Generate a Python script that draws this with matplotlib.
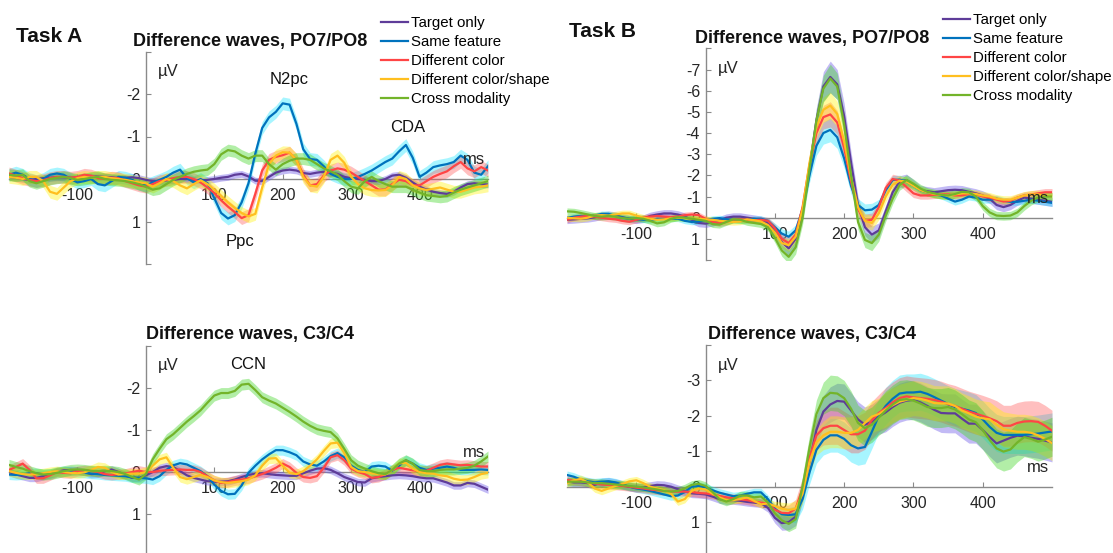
import numpy as np
import matplotlib.pyplot as plt

plt.rcParams['font.family'] = ['Liberation Sans', 'DejaVu Sans']

# time axis of the difference waves (ms)
time_ms = np.arange(-200, 501, 10)

conditions = ['Target only', 'Same feature', 'Different color',
              'Different color/shape', 'Cross modality']
line_colors = ['#5E3C99', '#0072BD', '#FF4545', '#FFBF1F', '#73B42A']
band_colors = ['#6F5BE8', '#19E6FF', '#FF4A4A', '#FFF200', '#3FD624']
band_alpha = [0.42, 0.38, 0.35, 0.38, 0.4]

# ---- Task A, PO7/PO8 (uV) ----
a_po_target = [-0.05, -0.03, 0.0, 0.02, 0.0, -0.02, -0.03, -0.04, -0.04, -0.03,
               -0.03, -0.04, -0.05, -0.06, -0.05, -0.04, -0.02, -0.03, -0.04, -0.02,
               0.02, 0.05, 0.05, 0.03, 0.02, 0.0, 0.0, 0.02, 0.03, 0.02,
               0.0, -0.03, -0.05, -0.1, -0.12, -0.06, 0.04, 0.05, -0.05, -0.15,
               -0.2, -0.22, -0.2, -0.14, -0.12, -0.15, -0.17, -0.15, -0.12, -0.05,
               -0.02, 0.0, 0.02, 0.05, 0.05, 0.0, -0.08, -0.1, -0.03, 0.08,
               0.18, 0.25, 0.3, 0.33, 0.35, 0.3, 0.2, 0.12, 0.1, 0.12,
               0.13]
a_po_same = [-0.1, -0.15, -0.1, 0.0, 0.05, 0.0, -0.1, -0.13, -0.1, 0.0,
             0.08, 0.05, 0.0, 0.12, 0.15, 0.05, -0.05, -0.03, 0.02, 0.12,
             0.15, 0.08, 0.02, -0.05, -0.15, -0.22, -0.02, 0.08, 0.0, 0.1,
             0.45, 0.8, 0.93, 0.85, 0.55, 0.1, -0.6, -1.2, -1.45, -1.58,
             -1.78, -1.75, -1.3, -0.7, -0.47, -0.45, -0.3, -0.12, -0.05, 0.0,
             0.0, -0.05, -0.12, -0.2, -0.3, -0.4, -0.48, -0.65, -0.8, -0.5,
             -0.05, -0.15, -0.28, -0.32, -0.35, -0.4, -0.55, -0.45, -0.15, -0.1,
             -0.3]
a_po_color = [-0.13, -0.08, -0.02, 0.02, 0.05, 0.03, -0.02, -0.05, -0.05, -0.03,
              -0.05, -0.1, -0.08, -0.02, 0.0, -0.03, -0.02, 0.05, 0.1, 0.15,
              0.18, 0.12, 0.05, 0.02, -0.02, -0.05, -0.05, 0.0, 0.08, 0.2,
              0.33, 0.5, 0.65, 0.78, 0.92, 0.85, 0.35, -0.2, -0.45, -0.52,
              -0.56, -0.62, -0.45, -0.1, 0.15, 0.12, -0.08, -0.2, -0.25, -0.22,
              -0.15, -0.05, 0.05, 0.15, 0.25, 0.25, 0.12, 0.02, 0.05, 0.15,
              0.15, 0.05, -0.05, -0.12, -0.18, -0.3, -0.4, -0.25, -0.18, -0.28,
              -0.2]
a_po_shape = [-0.05, -0.03, 0.0, -0.05, -0.05, 0.05, 0.3, 0.35, 0.2, 0.05,
              -0.02, -0.05, -0.03, -0.05, -0.05, -0.02, 0.0, 0.02, 0.05, 0.08,
              0.1, 0.18, 0.1, 0.0, 0.05, 0.15, 0.22, 0.12, 0.03, 0.12,
              0.25, 0.4, 0.55, 0.68, 0.8, 0.88, 0.82, 0.2, -0.35, -0.55,
              -0.63, -0.62, -0.45, -0.05, 0.15, 0.18, -0.05, -0.45, -0.55, -0.38,
              -0.05, 0.12, 0.22, 0.26, 0.27, 0.26, 0.15, -0.05, 0.0, 0.15,
              0.22, 0.26, 0.23, 0.2, 0.25, 0.3, 0.3, 0.25, 0.2, 0.18,
              0.15]
a_po_cross = [-0.1, -0.08, -0.1, 0.05, 0.1, 0.05, 0.0, -0.03, -0.05, -0.02,
              0.02, 0.0, -0.03, -0.05, 0.0, 0.02, 0.03, 0.05, 0.08, 0.12,
              0.18, 0.25, 0.22, 0.12, 0.02, -0.05, -0.12, -0.17, -0.2, -0.22,
              -0.35, -0.58, -0.68, -0.65, -0.55, -0.48, -0.55, -0.55, -0.35, -0.22,
              -0.35, -0.43, -0.48, -0.48, -0.45, -0.35, -0.25, -0.18, -0.1, 0.05,
              0.18, 0.22, 0.05, -0.05, 0.05, 0.12, 0.18, 0.18, 0.18, 0.25,
              0.32, 0.38, 0.4, 0.42, 0.4, 0.32, 0.25, 0.2, 0.15, 0.1,
              0.05]
a_po_se = [0.08, 0.15, 0.15, 0.15, 0.14]

# ---- Task A, C3/C4 (uV) ----
a_c_target = [0.0, 0.06, 0.1, 0.14, 0.14, 0.1, 0.05, 0.0, -0.04, -0.05,
              -0.04, 0.0, 0.05, 0.04, -0.02, -0.06, 0.0, 0.08, 0.14, 0.14,
              0.08, 0.0, -0.1, -0.14, -0.12, -0.02, 0.08, 0.14, 0.18, 0.22,
              0.23, 0.23, 0.22, 0.18, 0.12, 0.07, 0.04, 0.03, 0.05, 0.07,
              0.08, 0.09, 0.09, 0.03, -0.03, -0.08, -0.09, -0.05, 0.03, 0.12,
              0.18, 0.24, 0.25, 0.15, 0.12, 0.1, 0.08, 0.07, 0.08, 0.1,
              0.13, 0.15, 0.15, 0.2, 0.25, 0.32, 0.32, 0.26, 0.28, 0.35,
              0.42]
a_c_same = [0.06, 0.07, 0.06, 0.03, 0.03, 0.05, 0.04, -0.01, -0.02, 0.0,
            0.01, 0.02, 0.04, 0.05, 0.07, 0.08, 0.09, 0.1, 0.13, 0.14,
            0.15, 0.18, 0.1, -0.05, -0.16, -0.21, -0.18, -0.1, -0.02, 0.1,
            0.3, 0.45, 0.53, 0.52, 0.32, 0.02, -0.15, -0.3, -0.42, -0.52,
            -0.52, -0.47, -0.4, -0.25, -0.18, -0.15, -0.25, -0.38, -0.45, -0.35,
            -0.15, -0.05, 0.0, -0.13, -0.15, -0.13, -0.03, -0.15, -0.28, -0.2,
            -0.1, -0.05, -0.08, -0.1, -0.13, -0.1, -0.05, -0.05, -0.05, -0.06,
            -0.05]
a_c_color = [-0.05, -0.12, -0.2, -0.05, 0.15, 0.15, 0.08, 0.0, 0.02, 0.03,
             -0.02, -0.04, -0.03, 0.0, 0.05, 0.07, 0.05, 0.04, 0.0, -0.03,
             0.0, 0.0, -0.03, -0.04, -0.05, -0.06, -0.05, -0.05, 0.0, 0.1,
             0.2, 0.26, 0.24, 0.2, 0.18, 0.15, 0.1, 0.05, -0.02, -0.1,
             -0.2, -0.12, 0.02, 0.12, 0.14, 0.1, -0.1, -0.35, -0.4, -0.28,
             -0.08, 0.0, 0.05, 0.14, 0.12, 0.05, -0.05, -0.1, -0.07, -0.04,
             -0.02, -0.03, -0.1, -0.17, -0.2, -0.18, -0.16, -0.17, -0.15, -0.13,
             -0.13]
a_c_shape = [-0.02, 0.02, 0.05, 0.06, 0.05, 0.03, 0.0, -0.02, 0.0, 0.02,
             0.03, 0.01, -0.05, -0.12, -0.1, 0.0, 0.06, 0.05, 0.04, 0.04,
             0.0, -0.15, -0.3, -0.35, -0.1, 0.12, 0.17, 0.12, 0.07, 0.12,
             0.2, 0.24, 0.26, 0.24, 0.22, 0.18, 0.08, -0.15, -0.32, -0.33,
             -0.15, 0.02, 0.05, -0.02, -0.15, -0.3, -0.5, -0.68, -0.7, -0.45,
             -0.12, -0.02, 0.0, 0.03, 0.05, 0.06, -0.05, -0.2, -0.22, -0.08,
             0.0, 0.03, 0.04, 0.08, 0.1, 0.16, 0.19, 0.18, 0.12, 0.05,
             0.02]
a_c_cross = [-0.17, -0.12, -0.08, -0.02, 0.03, 0.06, 0.05, 0.02, -0.02, -0.05,
             -0.06, -0.05, -0.03, -0.02, -0.03, -0.02, 0.0, 0.05, 0.12, 0.18,
             0.05, -0.3, -0.55, -0.78, -0.9, -1.05, -1.2, -1.33, -1.47, -1.65,
             -1.82, -1.88, -1.88, -1.93, -2.08, -2.1, -1.95, -1.78, -1.7, -1.63,
             -1.53, -1.43, -1.32, -1.2, -1.1, -1.02, -0.98, -0.95, -0.8, -0.55,
             -0.28, -0.15, -0.08, -0.02, 0.03, 0.05, -0.05, -0.2, -0.28, -0.2,
             -0.05, -0.02, -0.02, -0.05, -0.06, -0.06, -0.08, -0.1, -0.15, -0.25,
             -0.37]
a_c_se = [0.09, 0.12, 0.12, 0.12, 0.13]

# ---- Task B, PO7/PO8 (uV) ----
b_po_target = [0.1, 0.08, 0.05, 0.03, -0.02, -0.1, -0.13, -0.1, -0.02, 0.05,
               0.1, 0.05, -0.08, -0.15, -0.2, -0.2, -0.15, -0.05, 0.1, 0.25,
               0.28, 0.22, 0.12, 0.0, -0.05, -0.05, 0.0, 0.05, 0.1, 0.25,
               0.65, 1.15, 1.45, 1.0, -0.3, -2.4, -4.6, -6.2, -6.65, -6.3,
               -4.8, -2.6, -0.6, 0.45, 0.8, 0.6, -0.3, -1.2, -1.7, -1.78,
               -1.55, -1.3, -1.25, -1.2, -1.25, -1.3, -1.32, -1.3, -1.22, -1.15,
               -1.05, -0.9, -0.6, -0.5, -0.6, -0.8, -0.95, -0.9, -0.85, -0.8,
               -0.75]
b_po_same = [0.0, -0.05, -0.08, -0.05, -0.1, -0.18, -0.18, -0.08, 0.0, 0.05,
             0.05, 0.1, 0.12, 0.05, 0.05, 0.05, 0.05, 0.15, 0.2, 0.18,
             0.12, 0.05, 0.02, 0.07, 0.12, 0.15, 0.12, 0.05, 0.05, 0.15,
             0.45, 0.75, 0.9, 0.6, -0.4, -2.0, -3.4, -4.0, -4.15, -3.8,
             -2.8, -1.5, -0.6, -0.35, -0.38, -0.6, -1.3, -1.78, -1.8, -1.7,
             -1.5, -1.3, -1.2, -1.1, -1.05, -0.9, -0.76, -0.85, -1.0, -0.95,
             -0.85, -0.85, -0.9, -0.8, -0.75, -0.75, -0.8, -0.85, -0.8, -0.75,
             -0.7]
b_po_color = [0.1, 0.0, -0.05, -0.08, -0.05, 0.0, 0.05, 0.08, 0.15, 0.19,
              0.1, 0.0, -0.05, -0.08, -0.05, -0.02, -0.05, -0.12, -0.15, -0.12,
              0.05, 0.2, 0.27, 0.2, 0.1, 0.08, 0.1, 0.12, 0.1, 0.15,
              0.5, 1.0, 1.2, 0.8, -0.5, -2.5, -4.0, -4.75, -4.88, -4.5,
              -3.3, -1.7, -0.4, 0.15, 0.1, -0.5, -1.4, -1.83, -1.75, -1.45,
              -1.15, -1.05, -1.05, -1.08, -1.1, -1.1, -1.05, -1.05, -1.12, -1.1,
              -1.0, -0.95, -0.85, -0.76, -0.8, -0.95, -1.05, -1.1, -1.15, -1.2,
              -1.2]
b_po_shape = [0.0, 0.03, 0.05, 0.0, -0.1, -0.12, -0.1, -0.15, -0.2, -0.2,
              -0.1, 0.0, 0.05, 0.1, 0.08, 0.03, 0.0, 0.02, 0.05, 0.05,
              0.08, 0.1, 0.15, 0.18, 0.2, 0.18, 0.08, 0.12, 0.18, 0.35,
              0.7, 1.2, 1.3, 0.9, -0.4, -2.6, -4.3, -5.1, -5.3, -4.9,
              -3.6, -1.9, -0.5, 0.15, 0.25, -0.2, -1.0, -1.55, -1.75, -1.7,
              -1.5, -1.3, -1.2, -1.12, -1.08, -1.05, -1.1, -1.15, -1.15, -1.12,
              -1.05, -1.0, -0.9, -0.85, -0.85, -0.95, -1.05, -1.1, -1.1, -1.05,
              -1.0]
b_po_cross = [-0.3, -0.28, -0.22, -0.15, -0.08, -0.05, -0.08, -0.05, 0.02, 0.05,
              0.02, 0.05, 0.15, 0.27, 0.22, 0.05, -0.02, 0.0, 0.05, 0.1,
              0.15, 0.3, 0.33, 0.2, 0.08, 0.1, 0.2, 0.25, 0.3, 0.45,
              0.95, 1.55, 1.85, 1.4, 0.0, -2.3, -4.6, -6.1, -6.58, -6.2,
              -4.4, -2.0, 0.2, 1.05, 1.2, 0.8, -0.1, -0.9, -1.55, -1.78,
              -1.6, -1.38, -1.22, -1.15, -1.08, -1.05, -1.12, -1.22, -1.2, -1.0,
              -0.55, -0.25, -0.1, -0.08, -0.1, -0.25, -0.55, -0.8, -0.95, -1.0,
              -1.0]
b_po_se = [0.18, 0.18, 0.18, 0.18, 0.18, 0.18, 0.18, 0.18, 0.18, 0.18,
           0.18, 0.18, 0.18, 0.18, 0.18, 0.18, 0.18, 0.18, 0.18, 0.18,
           0.18, 0.18, 0.18, 0.18, 0.18, 0.18, 0.18, 0.18, 0.18, 0.2,
           0.25, 0.3, 0.35, 0.35, 0.35, 0.45, 0.6, 0.7, 0.75, 0.7,
           0.6, 0.5, 0.4, 0.4, 0.4, 0.35, 0.3, 0.28, 0.28, 0.28,
           0.25, 0.22, 0.22, 0.22, 0.22, 0.22, 0.22, 0.22, 0.22, 0.22,
           0.22, 0.22, 0.22, 0.22, 0.22, 0.22, 0.22, 0.22, 0.22, 0.22,
           0.22]
b_po_se_scale = [1.0, 0.75, 0.8, 0.85, 0.9]

# ---- Task B, C3/C4 (uV) ----
b_c_target = [-0.15, -0.12, -0.12, -0.1, -0.05, -0.12, -0.14, -0.1, -0.05, 0.0,
              0.03, 0.02, -0.02, -0.05, -0.04, 0.0, 0.07, 0.13, 0.19, 0.2,
              0.22, 0.28, 0.35, 0.38, 0.38, 0.4, 0.43, 0.45, 0.47, 0.6,
              0.88, 1.03, 1.0, 0.85, 0.15, -0.7, -1.6, -2.12, -2.32, -2.42,
              -2.4, -2.15, -1.9, -1.75, -1.83, -1.98, -2.1, -2.25, -2.37, -2.43,
              -2.45, -2.38, -2.28, -2.17, -2.08, -2.07, -2.07, -1.92, -1.78, -1.78,
              -1.6, -1.4, -1.22, -1.3, -1.38, -1.44, -1.42, -1.38, -1.35, -1.3,
              -1.25]
b_c_same = [-0.33, -0.28, -0.2, -0.15, -0.12, -0.14, -0.15, -0.12, -0.06, 0.0,
            0.05, 0.08, 0.12, 0.17, 0.22, 0.27, 0.25, 0.15, 0.0, -0.02,
            0.02, 0.1, 0.17, 0.22, 0.27, 0.25, 0.2, 0.16, 0.16, 0.35,
            0.62, 0.78, 0.8, 0.78, 0.35, -0.4, -1.04, -1.32, -1.45, -1.45,
            -1.35, -1.17, -1.08, -1.12, -1.55, -2.0, -2.28, -2.48, -2.63, -2.66,
            -2.66, -2.68, -2.62, -2.53, -2.43, -2.33, -2.25, -2.2, -2.15, -2.08,
            -1.9, -1.69, -1.52, -1.46, -1.46, -1.46, -1.46, -1.48, -1.5, -1.53,
            -1.56]
b_c_color = [-0.19, -0.17, -0.15, -0.12, -0.09, -0.06, -0.05, -0.04, -0.02, 0.0,
             0.03, 0.05, 0.08, 0.1, 0.12, 0.14, 0.14, 0.14, 0.15, 0.18,
             0.19, 0.22, 0.26, 0.3, 0.33, 0.36, 0.38, 0.42, 0.45, 0.48,
             0.65, 0.74, 0.75, 0.62, 0.05, -0.8, -1.45, -1.65, -1.72, -1.72,
             -1.6, -1.48, -1.48, -1.58, -1.88, -2.08, -2.22, -2.38, -2.5, -2.55,
             -2.52, -2.5, -2.48, -2.45, -2.4, -2.33, -2.28, -2.2, -2.12, -2.06,
             -2.0, -1.93, -1.85, -1.72, -1.72, -1.8, -1.84, -1.85, -1.83, -1.72,
             -1.58]
b_c_shape = [-0.1, -0.18, -0.22, -0.12, 0.05, 0.12, 0.05, -0.02, -0.08, -0.15,
             -0.18, -0.1, 0.0, 0.05, 0.1, 0.2, 0.42, 0.35, 0.12, 0.05,
             0.08, 0.2, 0.3, 0.38, 0.38, 0.35, 0.3, 0.4, 0.5, 0.47,
             0.55, 0.62, 0.66, 0.62, 0.2, -0.7, -1.25, -1.45, -1.55, -1.55,
             -1.52, -1.52, -1.6, -1.8, -1.98, -2.05, -2.18, -2.3, -2.4, -2.45,
             -2.5, -2.48, -2.43, -2.36, -2.35, -2.35, -2.28, -2.15, -2.07, -1.98,
             -1.93, -1.9, -1.75, -1.62, -1.58, -1.55, -1.55, -1.52, -1.45, -1.35,
             -1.23]
b_c_cross = [-0.14, -0.14, -0.14, -0.12, -0.1, -0.1, -0.08, -0.06, -0.04, -0.02,
             0.0, 0.02, 0.05, 0.08, 0.12, 0.14, 0.12, 0.05, -0.05, -0.08,
             -0.02, 0.15, 0.35, 0.42, 0.35, 0.25, 0.25, 0.3, 0.28, 0.45,
             0.75, 0.95, 1.05, 0.92, 0.0, -1.1, -2.05, -2.5, -2.65, -2.63,
             -2.5, -2.2, -1.8, -1.65, -1.75, -1.95, -2.15, -2.32, -2.45, -2.47,
             -2.43, -2.35, -2.25, -2.22, -2.22, -2.25, -2.18, -2.05, -1.9, -1.82,
             -1.6, -1.32, -1.08, -0.99, -1.05, -1.25, -1.4, -1.35, -1.27, -1.33,
             -1.41]
b_c_se = [0.12, 0.12, 0.12, 0.12, 0.12, 0.12, 0.12, 0.12, 0.12, 0.12,
          0.12, 0.12, 0.12, 0.12, 0.12, 0.12, 0.12, 0.12, 0.12, 0.12,
          0.12, 0.12, 0.12, 0.12, 0.12, 0.12, 0.12, 0.12, 0.12, 0.12,
          0.15, 0.2, 0.22, 0.25, 0.3, 0.35, 0.4, 0.45, 0.5, 0.5,
          0.5, 0.5, 0.5, 0.5, 0.5, 0.5, 0.55, 0.55, 0.55, 0.55,
          0.55, 0.55, 0.55, 0.55, 0.55, 0.55, 0.55, 0.55, 0.55, 0.55,
          0.55, 0.55, 0.55, 0.55, 0.55, 0.55, 0.55, 0.55, 0.55, 0.55,
          0.55]
b_c_se_scale = [1.0, 0.95, 1.05, 0.9, 1.0]

W, H = 1113, 553
PT = 0.72  # points per pixel at 100 dpi
AXIS_GREY = '#8a8a8a'
TEXT_COL = '#262626'


def box(left, top, right, bottom):
    return [left / W, 1 - bottom / H, (right - left) / W, (bottom - top) / H]


def draw_panel(ax, waves, errs, ylo, yhi, ylabels):
    handles = []
    for wave, err, col, a in zip(waves, errs, band_colors, band_alpha):
        w = np.asarray(wave)
        e = np.asarray(err)
        ax.fill_between(time_ms, w - e, w + e, color=col, alpha=a, lw=0)
    for wave, col, name in zip(waves, line_colors, conditions):
        h, = ax.plot(time_ms, wave, color=col, lw=1.6, label=name)
        handles.append(h)

    ax.set_xlim(-200, 500)
    ax.set_ylim(yhi, ylo)  # negative voltage plotted upward
    ax.patch.set_visible(False)
    ax.set_axisbelow(True)
    for side in ['top', 'right']:
        ax.spines[side].set_visible(False)
    for side in ['left', 'bottom']:
        ax.spines[side].set_position(('data', 0))
        ax.spines[side].set_color(AXIS_GREY)
        ax.spines[side].set_linewidth(1.0)
        ax.spines[side].set_zorder(0.5)

    yt = list(range(ylo, yhi + 1))
    ax.set_yticks(yt)
    ax.set_yticklabels([ylabels.get(v, '') for v in yt])
    ax.set_xticks([-100, 100, 200, 300, 400])
    ax.set_xticklabels(['-100', '100', '200', '300', '400'])
    ax.tick_params(direction='in', length=3.5, width=0.8, color=AXIS_GREY,
                   labelcolor=TEXT_COL, labelsize=11.5)
    ax.tick_params(axis='y', pad=4)
    ax.tick_params(axis='x', pad=6.5)

    ax.annotate('\u00b5V', xy=(0, ylo), xycoords='data',
                xytext=(12 * PT, -20 * PT), textcoords='offset points',
                ha='left', va='center', fontsize=12, color=TEXT_COL)
    ax.annotate('ms', xy=(500, 0), xycoords='data',
                xytext=(-3 * PT, 19 * PT), textcoords='offset points',
                ha='right', va='center', fontsize=12, color=TEXT_COL)
    return handles


fig = plt.figure(figsize=(W / 100, H / 100), dpi=100)

ax_a_po = fig.add_axes(box(9, 51.5, 488, 264))
ax_b_po = fig.add_axes(box(567, 48.4, 1052, 260))
ax_a_c = fig.add_axes(box(9, 346, 488, 556))
ax_b_c = fig.add_axes(box(567, 345, 1052, 557.5))

a_po = [a_po_target, a_po_same, a_po_color, a_po_shape, a_po_cross]
a_c = [a_c_target, a_c_same, a_c_color, a_c_shape, a_c_cross]
b_po = [b_po_target, b_po_same, b_po_color, b_po_shape, b_po_cross]
b_c = [b_c_target, b_c_same, b_c_color, b_c_shape, b_c_cross]

lab_a = {-2: '-2', -1: '-1', 0: '0', 1: '1'}
h_a = draw_panel(ax_a_po, a_po, a_po_se, -3, 2, lab_a)
draw_panel(ax_a_c, a_c, a_c_se, -3, 2, lab_a)
h_b = draw_panel(ax_b_po, b_po,
                 [np.asarray(b_po_se) * s for s in b_po_se_scale], -8, 2,
                 {v: str(v) for v in range(-7, 2)})
draw_panel(ax_b_c, b_c,
           [np.asarray(b_c_se) * s for s in b_c_se_scale], -4, 2,
           {v: str(v) for v in range(-3, 2)})

# component labels
ax_a_po.text(209, -2.33, 'N2pc', ha='center', va='center', fontsize=12, color='#111111')
ax_a_po.text(137, 1.48, 'Ppc', ha='center', va='center', fontsize=12, color='#111111')
ax_a_po.text(383, -1.21, 'CDA', ha='center', va='center', fontsize=12, color='#111111')
ax_a_c.text(149, -2.55, 'CCN', ha='center', va='center', fontsize=12, color='#111111')

# panel titles
title_kw = dict(ha='center', va='center', fontsize=13, fontweight='bold', color='#111111')
fig.text(250 / W, 1 - 41.7 / H, 'Difference waves, PO7/PO8', **title_kw)
fig.text(812 / W, 1 - 38.3 / H, 'Difference waves, PO7/PO8', **title_kw)
fig.text(250 / W, 1 - 335 / H, 'Difference waves, C3/C4', **title_kw)
fig.text(812 / W, 1 - 334 / H, 'Difference waves, C3/C4', **title_kw)

fig.text(16 / W, 1 - 36 / H, 'Task A', ha='left', va='center', fontsize=15,
         fontweight='bold', color='#111111')
fig.text(568.6 / W, 1 - 31.5 / H, 'Task B', ha='left', va='center', fontsize=15,
         fontweight='bold', color='#111111')

leg_kw = dict(loc='upper left', frameon=False, fontsize=10.8, handlelength=1.8,
              handletextpad=0.2, labelspacing=0.33, borderpad=0, borderaxespad=0)
fig.legend(h_a, conditions, bbox_to_anchor=(381 / W, 1 - 16 / H), **leg_kw)
fig.legend(h_b, conditions, bbox_to_anchor=(943 / W, 1 - 13 / H), **leg_kw)

fig.savefig('out.png', dpi=100)
